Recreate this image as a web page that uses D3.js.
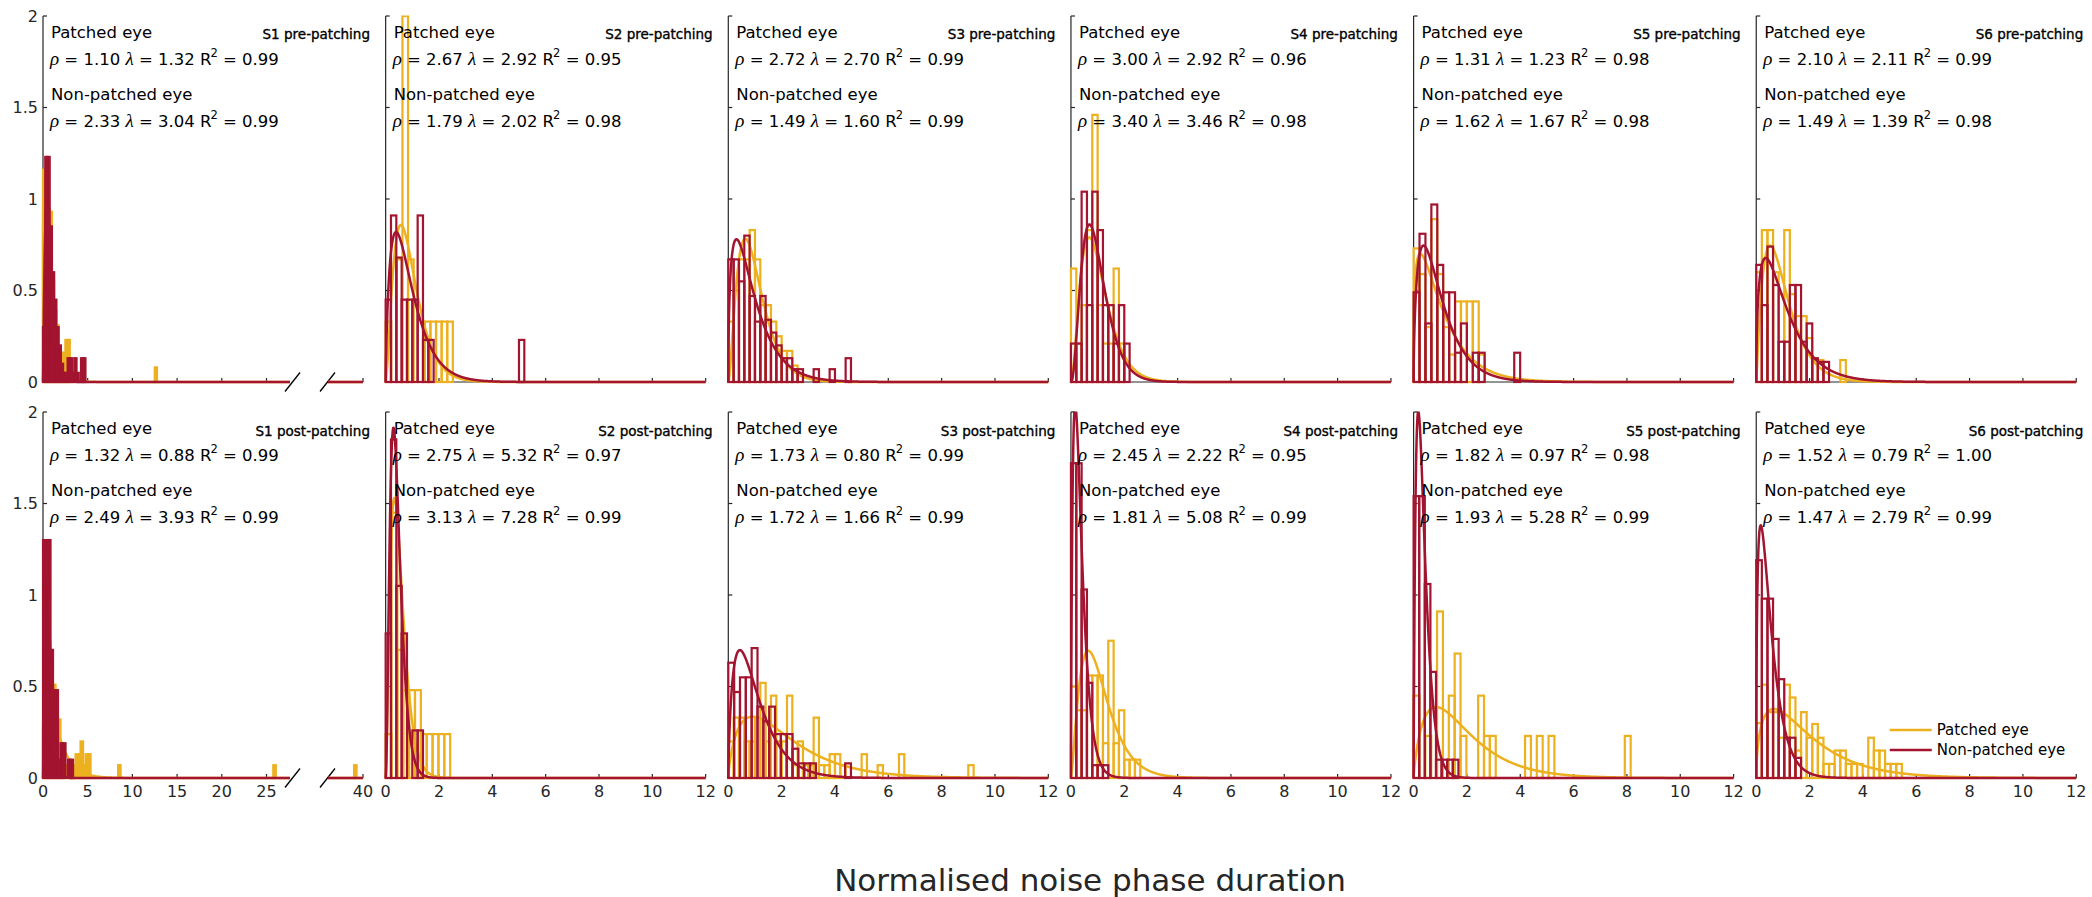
<!DOCTYPE html>
<html><head><meta charset="utf-8">
<script src="https://cdn.jsdelivr.net/npm/d3@7"></script>
<style>
body{margin:0;background:#fff;}
svg{display:block;}
text{font-family:"DejaVu Sans",Verdana,sans-serif;white-space:pre;}
</style>
</head><body>
<svg id="chart" width="2092" height="897"></svg>
<script>
// ---------------- data ----------------
const subjects = ["S1","S2","S3","S4","S5","S6"];
const sessions = ["pre-patching","post-patching"];
const seriesNames = ["Patched eye","Non-patched eye"];
const yTicks = [0,0.5,1,1.5,2];
const xTicksS1 = [0,5,10,15,20,25,40];
const xTicks = [0,2,4,6,8,10,12];
const xAxisTitle = "Normalised noise phase duration";

// fitted gamma parameters [session][subject]
const rhoPatched    = [[1.10,2.67,2.72,3.00,1.31,2.10],[1.32,2.75,1.73,2.45,1.82,1.52]];
const lambdaPatched = [[1.32,2.92,2.70,2.92,1.23,2.11],[0.88,5.32,0.80,2.22,0.97,0.79]];
const r2Patched     = [[0.99,0.95,0.99,0.96,0.98,0.99],[0.99,0.97,0.99,0.95,0.98,1.00]];
const rhoNon        = [[2.33,1.79,1.49,3.40,1.62,1.49],[2.49,3.13,1.72,1.81,1.93,1.47]];
const lambdaNon     = [[3.04,2.02,1.60,3.46,1.67,1.39],[3.93,7.28,1.66,5.08,5.28,2.79]];
const r2Non         = [[0.99,0.98,0.99,0.98,0.98,0.98],[0.99,0.99,0.99,0.99,0.99,0.99]];

// histogram bin widths [session][subject]
const binWidthPatched = [[0.25,0.21,0.2,0.2,0.222,0.21],[0.28,0.22,0.2,0.2,0.22,0.21]];
const binWidthNon     = [[0.25,0.2,0.2,0.2,0.222,0.21],[0.28,0.2,0.219,0.2,0.21,0.21]];

// histogram densities (bins from 0) [subject]
const patchedPre = [
  [1.16,1.0,0.95,0.93,0.55,0.39,0.31,0.16,0.16,0.16,0.23,0.23],
  [0.33,0,0.67,2.0,0.67,0,0,0.33,0.33,0.33,0.33,0.33],
  [0.33,0.5,0.67,0.67,0.83,0.67,0.42,0.42,0.33,0.25,0.17,0.17,0.09,0.04],
  [0.62,0.21,0.42,0.83,1.46,0.42,0.21,0.21,0.62,0.21],
  [0.73,0.59,0.3,0.89,0.59,0.3,0.15,0.44,0.44,0.44,0.44,0.15],
  [0.6,0.83,0.83,0.6,0.48,0.83,0.48,0.36,0.36,0.24,0.12,0.12,0,0,0,0.12]
];
const patchedPost = [
  [0.3,0.45,0.5,0.51,0.51,0.32,0.32,0.15,0.07,0.07,0.07,0.07,0.07,0.13,0.13,0.2,0.07,0.13,0.13],
  [0.24,1.45,0.7,0.48,0.48,0.48,0.24,0.24,0.24,0.24,0.24],
  [0.2,0.33,0.33,0.2,0.2,0.33,0.52,0.2,0.45,0.2,0.2,0.45,0.07,0.2,0.07,0.07,0.33,0.07,0.07,0.13,0.13,0.07,0,0,0,0.13,0,0,0.07,0,0,0,0.13,0,0,0,0,0,0,0,0,0,0,0,0,0.07],
  [0.5,0.37,0.37,0.56,0.56,0.56,0.19,0.75,0.19,0.37,0.1,0.1,0.1],
  [0.45,0,0.23,0,0.91,0,0.45,0.68,0.23,0,0,0.45,0.23,0.23,0,0,0,0,0,0.23,0,0.23,0,0.23,0,0,0,0,0,0,0,0,0,0,0,0,0.23],
  [0.3,0.51,0.36,0.36,0.22,0.51,0.44,0.15,0.36,0.22,0.295,0.22,0.077,0.077,0.15,0.15,0.077,0.077,0.077,0,0.22,0.15,0.15,0.077,0.077,0.077]
];
const nonPre = [
  [0.3,1.23,1.23,0.85,0.6,0.45,0.3,0.2,0.1,0.05,0.05,0.13,0.13,0.05,0.13,0.05,0,0.13,0.13],
  [0.45,0.91,0.68,0.45,0.45,0.45,0.91,0.23,0.23,0,0,0,0,0,0,0,0,0,0,0,0,0,0,0,0,0.23],
  [0.67,0.67,0.55,0.8,0.47,0.33,0.47,0.34,0.27,0.2,0.13,0.13,0.07,0.07,0,0,0.07,0,0,0.07,0,0,0.13],
  [0.21,0.21,1.04,0.42,1.04,0.83,0.42,0.42,0.21,0.42,0.21],
  [0.49,0.81,0.32,0.97,0.64,0.49,0.49,0.16,0.32,0,0.16,0.16,0,0,0,0,0,0.16],
  [0.64,0.42,0.74,0.53,0.22,0.22,0.53,0.53,0.22,0.32,0.13,0.11,0.11]
];
const nonPost = [
  [1.3,1.3,1.3,0.7,0.48,0.48,0.1,0.19,0.19,0,0.1,0.1],
  [0.79,1.85,1.05,0.79,0,0.26,0.26],
  [0.63,0.47,0.55,0.55,0.71,0.39,0.31,0.39,0.24,0.24,0.24,0.16,0.08,0.08,0.08,0,0,0,0,0,0.08],
  [1.72,1.72,1.03,0.52,0.07,0.07,0.07],
  [1.54,1.54,1.06,0.58,0.1,0.1,0.1,0.1],
  [1.19,0.98,0.98,0.76,0.54,0.22,0.22,0.11]
];
// isolated far bins of the patched eye: [session, subject, bin start, density]
const patchedFar = [[0,0,12.5,0.08],[1,0,8.4,0.07],[1,0,25.76,0.07],[1,0,39.0,0.07]];

// ---------------- layout ----------------
const colors = ["#EDB120","#A2142F"];
const axisColor = "#262626";
const panelW = 320, panelH = 366;
const rowTop = [16, 412];
const colLeft = d3.range(6).map(i => 43 + i*342.65);

const svg = d3.select("#chart");
const defs = svg.append("defs");

// gamma function (Lanczos) for the fitted gamma pdf
function gammaFn(z){
  const g = 7, c = [0.99999999999980993,676.5203681218851,-1259.1392167224028,771.32342877765313,
    -176.61502916214059,12.507343278686905,-0.13857109526572012,9.9843695780195716e-6,1.5056327351493116e-7];
  if (z < 0.5) return Math.PI/(Math.sin(Math.PI*z)*gammaFn(1-z));
  z -= 1; let x = c[0];
  for (let i=1;i<g+2;i++) x += c[i]/(z+i);
  const t = z+g+0.5;
  return Math.sqrt(2*Math.PI)*Math.pow(t,z+0.5)*Math.exp(-t)*x;
}
function gammaPdf(x, rho, lam){
  if (x <= 0) return 0;
  return Math.exp(rho*Math.log(lam) + (rho-1)*Math.log(x) - lam*x - Math.log(gammaFn(rho)));
}

const k1 = 44.7/5; // px per unit in broken S1 axis
for (let r=0;r<2;r++){
  for (let c=0;c<6;c++){
    const g = svg.append("g").attr("transform",`translate(${colLeft[c]},${rowTop[r]})`);
    const y = d3.scaleLinear().domain([0,2]).range([panelH,0]);
    const broken = c===0;
    const xa = broken ? d3.scaleLinear().domain([0,247/k1]).range([0,247])
                      : d3.scaleLinear().domain([0,12]).range([0,panelW]);
    const xb = d3.scaleLinear().domain([40-35/k1,40]).range([285,320]);
    const xs = v => (broken && v > 30) ? xb(v) : xa(v);

    const clipId = `clip-${r}-${c}`;
    defs.append("clipPath").attr("id",clipId).append("rect")
      .attr("x",-2).attr("y",-0.5).attr("width",panelW+4).attr("height",panelH+3);

    // axes (below data)
    const ax = g.append("g");
    ax.append("line").attr("x1",0).attr("x2",0).attr("y1",y(0)).attr("y2",y(2))
      .attr("stroke",axisColor).attr("stroke-width",1.2);
    yTicks.forEach(t=>{
      ax.append("line").attr("x1",0).attr("x2",4).attr("y1",y(t)).attr("y2",y(t))
        .attr("stroke",axisColor).attr("stroke-width",1.2);
      if (c===0) ax.append("text").attr("x",-5).attr("y",y(t)).attr("dy","0.36em")
        .attr("text-anchor","end").attr("font-size",16).attr("fill",axisColor).text(t);
    });
    if (broken){
      ax.append("line").attr("x1",0).attr("x2",247).attr("y1",panelH).attr("y2",panelH).attr("stroke",axisColor).attr("stroke-width",1.2);
      ax.append("line").attr("x1",285).attr("x2",320).attr("y1",panelH).attr("y2",panelH).attr("stroke",axisColor).attr("stroke-width",1.2);
      [249.5,284.5].forEach(cx=>{
        ax.append("line").attr("x1",cx-7.5).attr("x2",cx+7.5).attr("y1",panelH+9.5).attr("y2",panelH-9.5)
          .attr("stroke","#000").attr("stroke-width",1.3);
      });
    } else {
      ax.append("line").attr("x1",0).attr("x2",panelW).attr("y1",panelH).attr("y2",panelH).attr("stroke",axisColor).attr("stroke-width",1.2);
    }
    (broken ? xTicksS1 : xTicks).forEach(t=>{
      const px = xs(t);
      ax.append("line").attr("x1",px).attr("x2",px).attr("y1",panelH).attr("y2",panelH-4)
        .attr("stroke",axisColor).attr("stroke-width",1.2);
      if (r===1) ax.append("text").attr("x",px).attr("y",panelH+19).attr("text-anchor","middle")
        .attr("font-size",16).attr("fill",axisColor).text(t);
    });

    const data = g.append("g").attr("clip-path",`url(#${clipId})`);
    const series = [
      {h: r===0 ? patchedPre[c] : patchedPost[c], w: binWidthPatched[r][c], rho: rhoPatched[r][c], lam: lambdaPatched[r][c],
       far: patchedFar.filter(d=>d[0]===r && d[1]===c).map(d=>[d[2],d[3]])},
      {h: r===0 ? nonPre[c] : nonPost[c], w: binWidthNon[r][c], rho: rhoNon[r][c], lam: lambdaNon[r][c], far: []}
    ];
    series.forEach((s,si)=>{
      const bins = s.h.map((v,i)=>[i*s.w, v]).concat(s.far).filter(d=>d[1]>0);
      data.append("g").selectAll("rect").data(bins).join("rect")
        .attr("x",d=>xs(d[0])).attr("y",d=>y(d[1]))
        .attr("width",d=>xs(d[0]+s.w)-xs(d[0])).attr("height",d=>y(0)-y(d[1]))
        .attr("fill",d=> (xs(d[0]+s.w)-xs(d[0]))<4 ? colors[si] : "none")
        .attr("stroke",colors[si]).attr("stroke-width",2.2);
      const line = d3.line().x(d=>xs(d[0])).y(d=>y(d[1]));
      const ranges = broken ? [[0,247/k1],[40-35/k1,40]] : [[0,12]];
      ranges.forEach(([a,b])=>{
        const pts = d3.range(a,b+1e-9,0.005).map(v=>[v,gammaPdf(v,s.rho,s.lam)]);
        data.append("path").datum(pts).attr("d",line).attr("fill","none")
          .attr("stroke",colors[si]).attr("stroke-width",2.5).attr("stroke-linejoin","round");
      });
    });

    // annotations
    const labels = [[seriesNames[0],22],[seriesNames[1],84]];
    labels.forEach(([t,yy])=> g.append("text").attr("x",8).attr("y",yy).attr("font-size",16.5).attr("fill","#000").text(t));
    const eqs = [[rhoPatched[r][c],lambdaPatched[r][c],r2Patched[r][c],49],[rhoNon[r][c],lambdaNon[r][c],r2Non[r][c],111]];
    eqs.forEach(([rho,lam,r2,yy])=>{
      const t = g.append("text").attr("x",7).attr("y",yy).attr("font-size",16.5).attr("fill","#000");
      t.append("tspan").attr("font-family","Liberation Serif").attr("font-style","italic").attr("font-size",19).text("ρ");
      t.append("tspan").text(` = ${rho.toFixed(2)} `);
      t.append("tspan").attr("font-family","Liberation Serif").attr("font-style","italic").attr("font-size",19).text("λ");
      t.append("tspan").text(` = ${lam.toFixed(2)} R`);
      t.append("tspan").attr("font-size",11.5).attr("dy",-8).attr("dx",-1).text("2");
      t.append("tspan").attr("dy",8).text(` = ${r2.toFixed(2)}`);
    });
    g.append("text").attr("x",panelW+7).attr("y",r===0?23:24).attr("text-anchor","end")
      .attr("font-size",13.5).attr("fill","#000").attr("stroke","#000").attr("stroke-width",0.35)
      .text(`${subjects[c]} ${sessions[r]}`);

    // legend in last panel
    if (r===1 && c===5){
      seriesNames.forEach((n,i)=>{
        const ly = 318 + i*20;
        g.append("line").attr("x1",133.5).attr("x2",175.5).attr("y1",ly).attr("y2",ly)
          .attr("stroke",colors[i]).attr("stroke-width",2.5);
        g.append("text").attr("x",180.5).attr("y",ly).attr("dy","0.35em").attr("font-size",15)
          .attr("fill","#000").text(n);
      });
    }
  }
}
svg.append("text").attr("x",1090).attr("y",891).attr("text-anchor","middle")
  .attr("font-size",31).attr("fill",axisColor).text(xAxisTitle);
</script>
</body></html>
